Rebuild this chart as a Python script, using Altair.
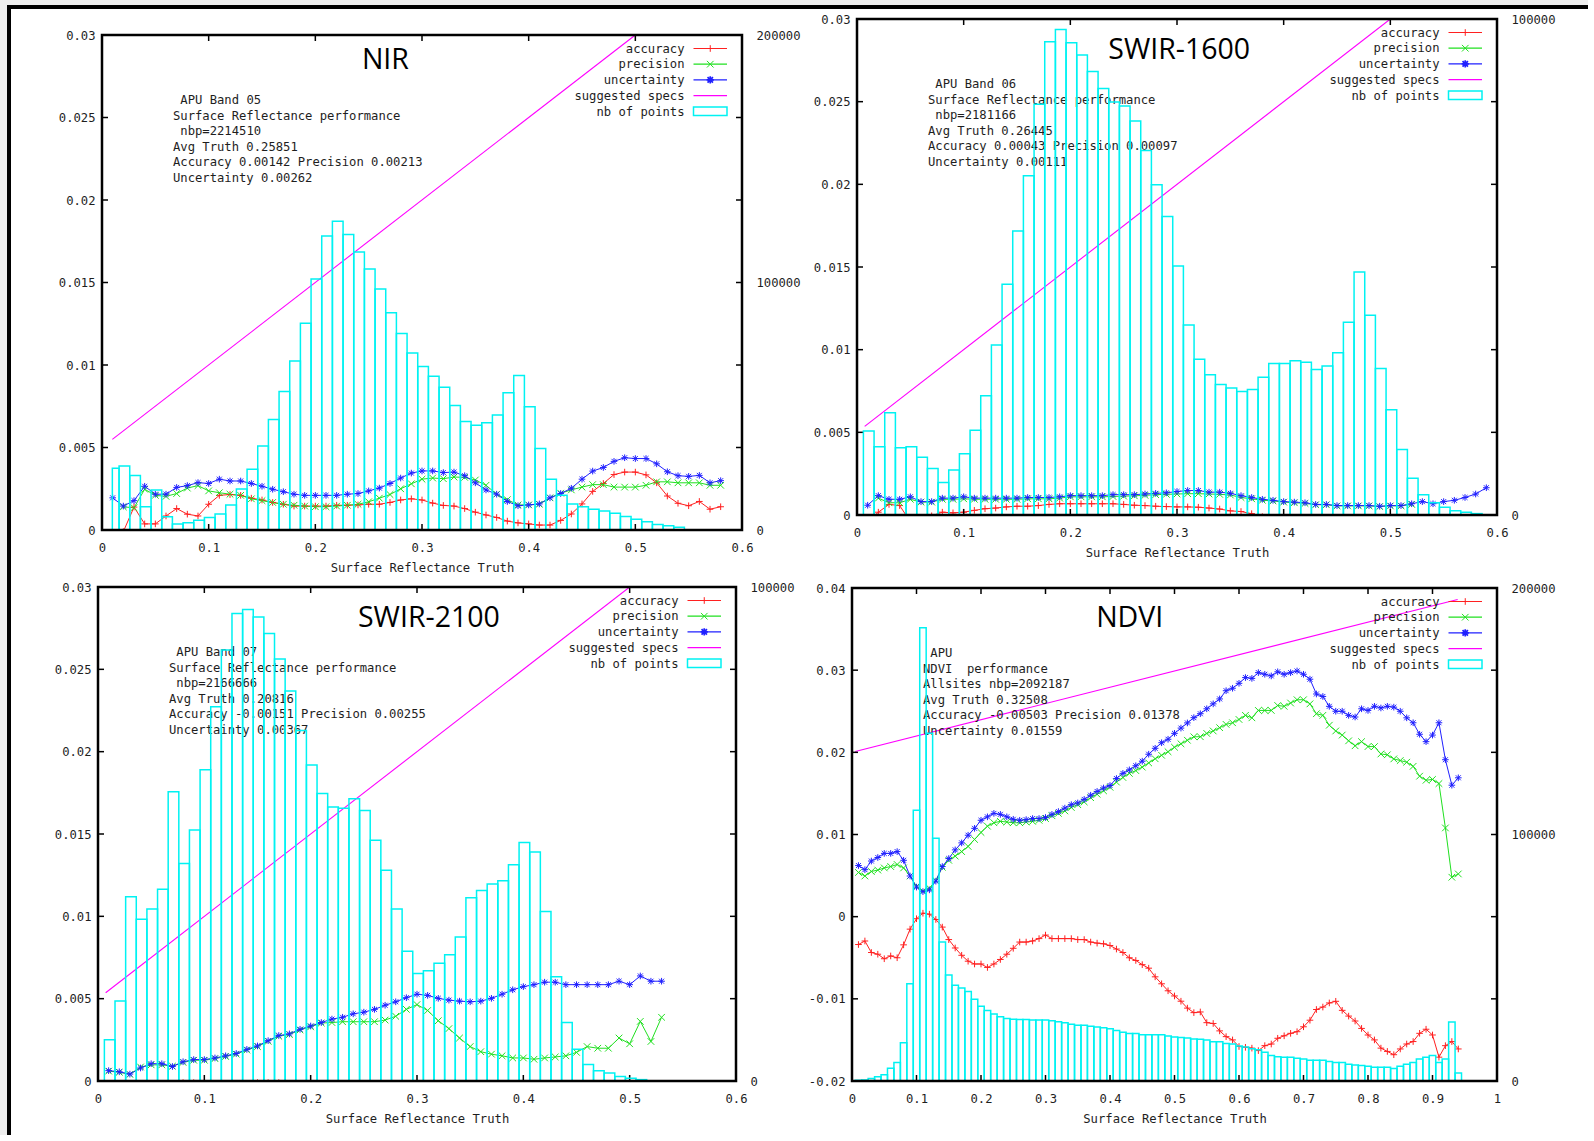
import altair as alt
import pandas as pd

# ---------------- shared labels / ticks ----------------
SERIES = ["accuracy", "precision", "uncertainty"]
LEGEND_LABELS = ["accuracy", "precision", "uncertainty", "suggested specs", "nb of points"]
X_TICKS_06 = [0, 0.1, 0.2, 0.3, 0.4, 0.5, 0.6]
X_TICKS_1 = [0, 0.1, 0.2, 0.3, 0.4, 0.5, 0.6, 0.7, 0.8, 0.9, 1]
Y_TICKS_SR = [0, 0.005, 0.01, 0.015, 0.02, 0.025, 0.03]
Y_TICKS_NDVI = [-0.02, -0.01, 0, 0.01, 0.02, 0.03, 0.04]
X_TITLE = "Surface Reflectance Truth"

# ---------------- NIR ----------------
nir_info = [" APU Band 05", "Surface Reflectance performance", " nbp=2214510",
            "Avg Truth 0.25851", "Accuracy 0.00142 Precision 0.00213", "Uncertainty 0.00262"]
nir_acc = [-0.002, -0.0001, 0.00139, 0.00037, 0.00037, 0.00085, 0.0013, 0.00096, 0.00085, 0.00156,
           0.0021, 0.00215, 0.0021, 0.00193, 0.00182, 0.00167, 0.00156, 0.00145, 0.00145, 0.00145,
           0.00145, 0.0015, 0.0015, 0.00152, 0.00156, 0.00156, 0.00167, 0.00182, 0.00189, 0.00182,
           0.00163, 0.00149, 0.00145, 0.0013, 0.00108, 0.00091, 0.00076, 0.00054, 0.00043, 0.00037,
           0.0003, 0.0003, 0.00058, 0.00097, 0.00158, 0.00234, 0.00282, 0.00336, 0.00351, 0.00351,
           0.00334, 0.00286, 0.00206, 0.00162, 0.00147, 0.00173, 0.00126, 0.00141]
nir_pre = [0.0014, 0.00135, 0.00247, 0.0021, 0.00204, 0.00221, 0.00254, 0.00269, 0.00237,
           0.00226, 0.00217, 0.0021, 0.00189, 0.00178, 0.00167, 0.00156, 0.0015, 0.00145, 0.00141,
           0.00141, 0.00145, 0.0015, 0.00156, 0.00171, 0.00193, 0.00215, 0.0025, 0.0028, 0.00308,
           0.00315, 0.00311, 0.00321, 0.00319, 0.00303, 0.00271, 0.00217, 0.00184, 0.00152, 0.00152,
           0.00156, 0.00195, 0.00223, 0.00243, 0.0026, 0.00275, 0.00275, 0.0026, 0.0026, 0.0026,
           0.00271, 0.00292, 0.00292, 0.00286, 0.00286, 0.00286, 0.00271, 0.00271]
nir_unc = [0.00195, 0.00145, 0.00178, 0.00265, 0.00217, 0.00217, 0.00258, 0.00269, 0.00287, 0.00282,
           0.00308, 0.00297, 0.00297, 0.00282, 0.00265, 0.00247, 0.00232, 0.00217, 0.0021, 0.0021,
           0.0021, 0.0021, 0.00217, 0.00221, 0.00237, 0.00254, 0.00282, 0.00315, 0.00345, 0.00358,
           0.00358, 0.00348, 0.00351, 0.00329, 0.00286, 0.00243, 0.00217, 0.00173, 0.00147, 0.00152,
           0.00158, 0.00195, 0.00221, 0.00253, 0.00308, 0.00357, 0.00379, 0.00416, 0.00438, 0.00433,
           0.00433, 0.00401, 0.00353, 0.00329, 0.00325, 0.00331, 0.00286, 0.00299]
nir_hist = [24900, 25900, 22000, 9400, 16200, 5350, 2460, 2900, 3900, 5060,
            6500, 10100, 16600, 24500, 33900, 44600, 56000, 68300, 83500, 101400,
            118800, 124700, 119400, 112300, 105500, 97400, 87800, 79400, 71500, 66100,
            62100, 57700, 50300, 43800, 42300, 43300, 46500, 55500, 62400, 49800,
            32900, 20500, 14000, 10500, 9400, 8400, 7650, 6800, 5500, 4300,
            3300, 2200, 1700, 1150]
nir_spec_x = [0.0097, 0.5]
nir_spec_y = [0.00549, 0.03]

# ---------------- SWIR-1600 ----------------
s16_info = [" APU Band 06", "Surface Reflectance performance", " nbp=2181166",
            "Avg Truth 0.26445", "Accuracy 0.00043 Precision 0.00097", "Uncertainty 0.00111"]
s16_acc = [-0.0004, 0.00017, 0.00064, 0.00057, -0.0004, -0.0004, -0.00005, 0.00017, 0.00013, 0.00017,
           0.00028, 0.00038, 0.00042, 0.00049, 0.00053, 0.00053, 0.00057, 0.00064, 0.00068, 0.00068,
           0.00068, 0.00068, 0.00068, 0.00068, 0.00064, 0.00059, 0.00057, 0.00053, 0.00051, 0.00049,
           0.00049, 0.00047, 0.00042, 0.00036, 0.00025, 0.00021, 0.00008, -0.0001, -0.0004]
s16_pre = [0.00102, 0.00074, 0.00074, 0.00095, 0.00078, 0.00078, 0.00095, 0.00095, 0.00098,
           0.00095, 0.00095, 0.00095, 0.00095, 0.00095, 0.00098, 0.00098, 0.00098, 0.00102, 0.0011,
           0.0011, 0.0011, 0.0011, 0.00112, 0.00114, 0.00116, 0.00119, 0.00123, 0.00125, 0.00127,
           0.00129, 0.00129, 0.00127, 0.00125, 0.00121, 0.00106, 0.00098, 0.00089, 0.00085, 0.00078,
           0.00074, 0.0007, 0.00062, 0.00062, 0.00055, 0.00055, 0.00055, 0.00055, 0.00051, 0.00055,
           0.00055, 0.00064]
s16_unc = [0.00059, 0.00117, 0.00095, 0.00095, 0.0011, 0.00081, 0.00081, 0.00102, 0.00102, 0.0011,
           0.00102, 0.00102, 0.00102, 0.00102, 0.00102, 0.00106, 0.00106, 0.00106, 0.0011, 0.00117,
           0.00117, 0.00117, 0.00117, 0.00123, 0.00123, 0.00123, 0.00127, 0.00131, 0.00134, 0.00142,
           0.00148, 0.00148, 0.00138, 0.00138, 0.00131, 0.00117, 0.00106, 0.00095, 0.00089, 0.00081,
           0.00078, 0.00074, 0.00064, 0.00064, 0.00057, 0.00057, 0.00057, 0.00057, 0.00053, 0.00057,
           0.00057, 0.00068, 0.00081, 0.00068, 0.00081, 0.00089, 0.00106, 0.00127, 0.00165]
s16_hist = [16960, 13780, 20640, 13570, 13780, 11660, 9400, 6570, 9050, 12370,
            17100, 24030, 34280, 46500, 57240, 68400, 82830, 95400, 97880, 95190,
            92720, 89400, 86000, 83250, 82470, 79430, 73500, 66570, 60200, 50180,
            38300, 31400, 28270, 26290, 25580, 24880, 25300, 27770, 30530, 30530,
            31100, 30810, 29330, 30040, 32720, 38870, 48980, 40280, 29540, 21200,
            13220, 7420, 4100, 2470, 1550, 850, 570, 280]
s16_spec_x = [0.0072, 0.5]
s16_spec_y = [0.00536, 0.03]

# ---------------- SWIR-2100 ----------------
s21_info = [" APU Band 07", "Surface Reflectance performance", " nbp=2166666",
            "Avg Truth 0.20816", "Accuracy -0.00151 Precision 0.00255", "Uncertainty 0.00367"]
s21_acc = [-0.0012, -0.0012, -0.0012, -0.001, -0.0008, -0.0007, -0.0005, -0.0001, -0.0001, -0.0001,
           -0.0004, -0.0006, -0.0005, -0.0003, -0.0001, -0.0001, -0.0001,
           -0.0005, -0.0008, -0.0011, -0.0013, -0.0015, -0.0016, -0.0017, -0.0018, -0.0019, -0.002,
           -0.0021, -0.0022, -0.0024, -0.0026, -0.0027, -0.0027, -0.0026, -0.0025, -0.0024, -0.0023,
           -0.0022, -0.0021, -0.002, -0.0019, -0.0018, -0.0018, -0.0017, -0.0017, -0.0016, -0.0016,
           -0.0015, -0.0015, -0.0014, -0.0014, -0.0013, -0.0013]
s21_pre = [0.0006, 0.00053, 0.0004, 0.00085, 0.00098, 0.00098, 0.0009, 0.00113, 0.00126, 0.00126,
           0.00136, 0.00149, 0.00163, 0.00188, 0.00209, 0.00241, 0.00272, 0.00282, 0.0031, 0.00329,
           0.00352, 0.00355, 0.0036, 0.0036, 0.0036, 0.0036, 0.0037, 0.00393, 0.00435, 0.00464,
           0.00428, 0.00366, 0.00318, 0.00261, 0.00209, 0.00178, 0.00163, 0.00153, 0.0014, 0.0014,
           0.00132, 0.0014, 0.00146, 0.00153, 0.00174, 0.00209, 0.00199, 0.00199, 0.00261, 0.00226,
           0.00362, 0.0024, 0.00387]
s21_unc = [0.00063, 0.00056, 0.00042, 0.00079, 0.00105, 0.00105, 0.00088, 0.00117, 0.0013, 0.0013,
           0.0014, 0.00153, 0.00167, 0.00192, 0.00213, 0.00245, 0.00276, 0.00286, 0.00314, 0.00334,
           0.00355, 0.00376, 0.00387, 0.00408, 0.00418, 0.00435, 0.0046, 0.00481, 0.00506, 0.00527,
           0.0052, 0.00502, 0.00491, 0.00485, 0.00481, 0.00485, 0.00502, 0.00527, 0.00554, 0.00573,
           0.00585, 0.006, 0.006, 0.00585, 0.00585, 0.00585, 0.00585, 0.00585, 0.00606, 0.00585,
           0.00638, 0.00606, 0.00606]
s21_hist = [8360, 16170, 37280, 32750, 34840, 38820, 58540, 44040, 50800, 63000,
            75750, 87250, 94630, 95470, 93940, 90590, 85440, 78950, 70940, 63970,
            58190, 55470, 55190, 57140, 54770, 48710, 42650, 34840, 26270, 21740,
            22300, 23830, 25580, 29130, 37070, 38540, 39860, 40560, 43760, 48290,
            46340, 34290, 21110, 11850, 6410, 3340, 2090, 1600, 900, 560, 280]
s21_spec_x = [0.0072, 0.5]
s21_spec_y = [0.00536, 0.03]

# ---------------- NDVI ----------------
ndvi_info = [" APU", "NDVI  performance", "Allsites nbp=2092187", "Avg Truth 0.32508",
             "Accuracy -0.00503 Precision 0.01378", "Uncertainty 0.01559"]
ndvi_acc = [-0.00339, -0.00296, -0.00436, -0.00457, -0.00512, -0.00478, -0.005, -0.00343, -0.00152, -0.00025,
            0.00042, 0.0003, -0.00034, -0.00127, -0.00279, -0.00381, -0.0047, -0.00542, -0.00576, -0.00576,
            -0.00618, -0.00576, -0.00521, -0.00457, -0.00385, -0.00309, -0.00309, -0.00296, -0.00267, -0.00224,
            -0.00267, -0.00267, -0.00267, -0.00267, -0.00279, -0.00279, -0.00309, -0.00322, -0.0033, -0.00351,
            -0.00394, -0.00436, -0.005, -0.00533, -0.00584, -0.00627, -0.00732, -0.00817, -0.00902, -0.00965,
            -0.01029, -0.01113, -0.01168,
            -0.0116, -0.0129, -0.013, -0.0139, -0.0146, -0.015, -0.0158, -0.0159, -0.016, -0.0163,
            -0.0157, -0.0155, -0.0148, -0.0145, -0.0142, -0.014, -0.0134, -0.0126, -0.0113, -0.011,
            -0.0105, -0.0103, -0.0114, -0.0121, -0.0127, -0.0136, -0.0144, -0.015, -0.016, -0.0164,
            -0.0168, -0.0161, -0.0155, -0.0152, -0.0142, -0.0137, -0.0144, -0.0171, -0.0157, -0.0152,
            -0.0161]
ndvi_pre = [0.00538, 0.00495, 0.0055, 0.00567, 0.00593, 0.0061, 0.00635, 0.00593, 0.00495, 0.00368,
            0.00313, 0.00347, 0.0044, 0.00601, 0.00686, 0.00737, 0.00792, 0.00855, 0.0094, 0.01025,
            0.01101, 0.01143, 0.0116, 0.01152, 0.01143, 0.01143, 0.01152, 0.0116, 0.01173, 0.01194,
            0.01228, 0.01257, 0.01287, 0.01329, 0.01363, 0.01397, 0.01448, 0.0149, 0.01532, 0.01575,
            0.01638, 0.01694, 0.01744, 0.01778, 0.0182, 0.01871, 0.01922, 0.01964, 0.02007, 0.02062,
            0.02104, 0.02147, 0.02189,
            0.0219, 0.0223, 0.0226, 0.023, 0.0234, 0.0236, 0.024, 0.0245, 0.0242, 0.0251,
            0.0251, 0.0251, 0.0257, 0.0256, 0.026, 0.0264, 0.0264, 0.0259, 0.0247, 0.0245,
            0.0233, 0.0226, 0.0221, 0.0214, 0.0208, 0.0213, 0.0207, 0.0207, 0.0198, 0.0197,
            0.0192, 0.019, 0.0188, 0.0183, 0.0171, 0.0166, 0.0167, 0.0162, 0.0108, 0.0048,
            0.0052]
ndvi_unc = [0.00622, 0.00572, 0.00677, 0.0072, 0.0077, 0.0077, 0.00792, 0.00686, 0.00495, 0.0036,
            0.00305, 0.00326, 0.00432, 0.0061, 0.00707, 0.00813, 0.00898, 0.00991, 0.01075, 0.01173,
            0.01215, 0.01257, 0.01245, 0.01215, 0.01185, 0.01173, 0.01181, 0.01194, 0.01194, 0.01207,
            0.01245, 0.01279, 0.01321, 0.01363, 0.01384, 0.01427, 0.01478, 0.01524, 0.01566, 0.01596,
            0.01681, 0.01744, 0.01787, 0.01837, 0.01892, 0.01977, 0.02049, 0.02117, 0.02159, 0.02231,
            0.02295, 0.02358, 0.02422,
            0.0247, 0.0253, 0.0259, 0.0265, 0.0275, 0.0278, 0.0284, 0.0291, 0.029, 0.0297,
            0.0295, 0.0293, 0.0298, 0.0295, 0.0297, 0.0299, 0.0295, 0.0289, 0.0271, 0.0268,
            0.0256, 0.025, 0.025, 0.0245, 0.0243, 0.0253, 0.0251, 0.0256, 0.0254, 0.0256,
            0.0255, 0.025, 0.0242, 0.0236, 0.0222, 0.0213, 0.0221, 0.0236, 0.0191, 0.016,
            0.0169]
ndvi_hist = [300, 420, 1000, 1700, 2540, 5200, 7500, 15500, 39500, 109800,
             183900, 141100, 98500, 56400, 43000, 38800, 37700, 36300, 33200, 30300,
             28600, 27200, 26100, 25400, 25100, 25000, 25000, 24700, 24700, 24700,
             24400, 24000, 23600, 23000, 22600, 22600, 22200, 21900, 21600, 21200,
             20500, 19800, 19300, 19300, 18800, 18800, 18800, 18800, 18300, 17900,
             17600, 17400, 17000, 16900, 16600, 15900, 15900, 15200, 15000, 14200,
             13800, 13100, 12700, 11700, 10300, 9800, 9600, 9600, 9200, 8900,
             8400, 8400, 8400, 7900, 7500, 7500, 6800, 6500, 6300, 6000,
             5600, 5600, 5600, 5100, 6000, 6800, 7500, 8900, 9600, 10300,
             7500, 8900, 23900, 3200]
ndvi_spec_x = [0.005, 0.939]
ndvi_spec_y = [0.0201, 0.0386]

# ---------------- style ----------------
MONO = "DejaVu Sans Mono"
SANS = "Open Sans"
FS = 12.2
CHAR_W = 7.35
INK = "#1e1e1e"
SER_COLORS = ["#ff2020", "#20e020", "#2020ff"]
SPEC_COLOR = "#ff00ff"
HIST_COLOR = "#00f2f2"
PATHS = ["M-1,0L1,0M0,-1L0,1",
         "M-1,-1L1,1M-1,1L1,-1",
         "M-1,0L1,0M0,-1L0,1M-0.75,-0.75L0.75,0.75M-0.75,0.75L0.75,-0.75"]
PT_SIZE = [44, 44, 52]
PT_SW = [1, 1, 1.7]

PANELS = [
    dict(name="NIR", W=644, H=511, frame=(4, 16, 644, 511), xdom=[0, 0.6], ydom=[0, 0.03],
         y2dom=[0, 200000], xticks=X_TICKS_06, yticks=Y_TICKS_SR, y2ticks=[0, 100000, 200000],
         tpos=(283.4, 34.3), info=nir_info, acc=(1, nir_acc), pre=(2, nir_pre), unc=(1, nir_unc),
         hist=nir_hist, hshift=0.001, hmin=0.0097, spec=(nir_spec_x, nir_spec_y), border=True),
    dict(name="SWIR-1600", W=645, H=496, frame=(5, 0, 645, 496), xdom=[0, 0.6], ydom=[0, 0.03],
         y2dom=[0, 100000], xticks=X_TICKS_06, yticks=Y_TICKS_SR, y2ticks=[0, 100000],
         tpos=(322.2, 40.3), info=s16_info, acc=(1, s16_acc), pre=(2, s16_pre), unc=(1, s16_unc),
         hist=s16_hist, hshift=0.001, hmin=0.0, spec=(s16_spec_x, s16_spec_y), border=False),
    dict(name="SWIR-2100", W=638, H=494, frame=(0, 0, 638, 494), xdom=[0, 0.6], ydom=[0, 0.03],
         y2dom=[0, 100000], xticks=X_TICKS_06, yticks=Y_TICKS_SR, y2ticks=[0, 100000],
         tpos=(330.9, 39.7), info=s21_info, acc=(1, s21_acc), pre=(1, s21_pre), unc=(1, s21_unc),
         hist=s21_hist, hshift=0.001, hmin=0.0, spec=(s21_spec_x, s21_spec_y), border=False),
    dict(name="NDVI", W=645, H=494, frame=(0, 1, 645, 494), xdom=[0, 1], ydom=[-0.02, 0.04],
         y2dom=[0, 200000], xticks=X_TICKS_1, yticks=Y_TICKS_NDVI, y2ticks=[0, 100000, 200000],
         tpos=(277.7, 38.9), info=ndvi_info, acc=(1, ndvi_acc), pre=(1, ndvi_pre), unc=(1, ndvi_unc),
         hist=ndvi_hist, hshift=0.0, hmin=0.0, spec=(ndvi_spec_x, ndvi_spec_y), border=False),
]

ONE = pd.DataFrame({"a": [0]})
LBL = "'' + datum.value"


def series_df(p):
    rows = []
    for s, key in zip(SERIES, ["acc", "pre", "unc"]):
        start, vals = p[key]
        for i, v in enumerate(vals):
            rows.append({"x": round((start + i) * 0.01, 2), "v": v, "s": s})
    return pd.DataFrame(rows)


def hist_df(p):
    rows = []
    for i, n in enumerate(p["hist"]):
        c = (i + 1) * 0.01 + p["hshift"]
        rows.append({"lo": round(max(c - 0.005, p["hmin"]), 4), "hi": round(c + 0.005, 4), "n": n, "z": 0})
    return pd.DataFrame(rows)


def rect(x0, x1, y0, y1, **kw):
    return alt.Chart(ONE).mark_rect(**kw).encode(
        x=alt.value(x0), x2=alt.value(x1), y=alt.value(y0), y2=alt.value(y1))


def build(p):
    W, H = p["W"], p["H"]
    fx0, fy0, fx1, fy1 = p["frame"]
    xs = alt.Scale(domain=p["xdom"], range=[fx0, fx1], nice=False, zero=False)
    ys = alt.Scale(domain=p["ydom"], range=[fy1, fy0], nice=False, zero=False)
    y2s = alt.Scale(domain=p["y2dom"], range=[fy1, fy0], nice=False, zero=False)

    common = dict(ticks=False, tickSize=0, domain=False, grid=False, labelFlush=False,
                  labelOverlap=False, labelFont=MONO, labelFontSize=FS, labelColor=INK)
    xaxis = alt.Axis(values=p["xticks"], labelExpr=LBL, title=X_TITLE, orient="bottom",
                     labelPadding=11.8, titlePadding=7.5, titleFont=MONO, titleFontSize=FS,
                     titleFontWeight="normal", titleColor=INK, **common)
    yaxis = alt.Axis(values=p["yticks"], labelExpr=LBL, title=None, orient="left",
                     labelPadding=7 - fx0, **common)
    y2axis = alt.Axis(values=p["y2ticks"], labelExpr=LBL, title=None, orient="right",
                      labelPadding=14 - (W - fx1), **common)

    df = series_df(p)
    xt = pd.DataFrame({"t": p["xticks"]})
    yt = pd.DataFrame({"t": p["yticks"]})

    def X(f):
        return alt.X(f, scale=xs, axis=xaxis)

    def Y(f):
        return alt.Y(f, scale=ys, axis=yaxis)

    color = alt.Color("s:N", scale=alt.Scale(domain=SERIES, range=SER_COLORS), legend=None)
    layers = []

    # data series first (defines the shared axes)
    layers.append(
        alt.Chart(df).mark_line(strokeWidth=1, clip=True).encode(
            x=X("x:Q"), y=Y("v:Q"), color=color))
    layers.append(
        alt.Chart(df).mark_point(filled=False, clip=True, opacity=1).encode(
            x=X("x:Q"), y=Y("v:Q"), color=color,
            shape=alt.Shape("s:N", scale=alt.Scale(domain=SERIES, range=PATHS), legend=None),
            size=alt.Size("s:O", scale=alt.Scale(domain=SERIES, range=PT_SIZE), legend=None),
            strokeWidth=alt.StrokeWidth("s:O", scale=alt.Scale(domain=SERIES, range=PT_SW), legend=None)))
    sx, sy = p["spec"]
    layers.append(
        alt.Chart(pd.DataFrame({"x": sx, "v": sy})).mark_line(
            color=SPEC_COLOR, strokeWidth=1.1, clip=True).encode(x=X("x:Q"), y=Y("v:Q")))

    if p["border"]:
        layers += [
            rect(-98, 1490, -19, -14, fill="#eeeeee"),
            rect(-98, -91, -19, 1116, fill="#eeeeee"),
            rect(-91, 1490, -14, -10, fill="black"),
            rect(-91, -87, -14, 1116, fill="black"),
        ]

    tk = dict(color="black", strokeWidth=1.5)
    layers += [
        alt.Chart(xt).mark_rule(**tk).encode(x=X("t:Q"), y=alt.value(fy1), y2=alt.value(fy1 - 6)),
        alt.Chart(xt).mark_rule(**tk).encode(x=X("t:Q"), y=alt.value(fy0), y2=alt.value(fy0 + 6)),
        alt.Chart(yt).mark_rule(**tk).encode(y=Y("t:Q"), x=alt.value(fx0), x2=alt.value(fx0 + 6)),
        alt.Chart(yt).mark_rule(**tk).encode(y=Y("t:Q"), x=alt.value(fx1 - 6), x2=alt.value(fx1)),
    ]

    # annotation block (one text mark per line; leading blanks become an indent)
    for i, line in enumerate(p["info"]):
        indent = len(line) - len(line.lstrip(" "))
        txt = line.strip().replace("  ", "\u00a0 ")
        layers.append(
            alt.Chart(ONE).mark_text(text=txt, align="left", baseline="top",
                                     font=MONO, fontSize=FS, color=INK).encode(
                x=alt.value(fx0 + 71 + indent * CHAR_W), y=alt.value(fy0 + 59.2 + 15.5 * i)))
    tx, ty = p["tpos"]
    layers.append(
        alt.Chart(ONE).mark_text(text=p["name"], align="center", baseline="alphabetic",
                                 font=SANS, fontSize=28.5, color="black").encode(
            x=alt.value(fx0 + tx), y=alt.value(fy0 + ty)))

    # legend
    row0, drow = 13.5, 15.7
    for i, lab in enumerate(LEGEND_LABELS):
        layers.append(
            alt.Chart(ONE).mark_text(text=lab, align="right", baseline="top",
                                     font=MONO, fontSize=FS, color=INK).encode(
                x=alt.value(fx1 - 57.5), y=alt.value(fy0 + row0 - 5.8 + drow * i)))
    lx0, lx1 = fx1 - 48.5, fx1 - 15
    for i, col in enumerate(SER_COLORS):
        yy = fy0 + row0 + drow * i
        layers.append(alt.Chart(ONE).mark_rule(color=col, strokeWidth=1.2).encode(
            x=alt.value(lx0), x2=alt.value(lx1), y=alt.value(yy)))
        layers.append(alt.Chart(ONE).mark_point(shape=PATHS[i], size=PT_SIZE[i], filled=False,
                                                strokeWidth=PT_SW[i], color=col, opacity=1).encode(
            x=alt.value((lx0 + lx1) / 2), y=alt.value(yy)))
    yy = fy0 + row0 + drow * 3
    layers.append(alt.Chart(ONE).mark_rule(color=SPEC_COLOR, strokeWidth=1.2).encode(
        x=alt.value(lx0), x2=alt.value(lx1), y=alt.value(yy)))
    yy = fy0 + row0 + drow * 4
    layers.append(rect(lx0, lx1, yy - 4.2, yy + 4.2, fillOpacity=0, stroke=HIST_COLOR, strokeWidth=1.5))

    inner = alt.layer(*layers)

    bars = alt.Chart(hist_df(p)).mark_rect(fillOpacity=0, stroke=HIST_COLOR, strokeWidth=1.5).encode(
        x=alt.X("lo:Q", scale=xs, axis=xaxis), x2="hi:Q",
        y=alt.Y("n:Q", scale=y2s, axis=y2axis), y2="z:Q")

    frame = rect(fx0, fx1, fy0, fy1, fillOpacity=0, stroke="black", strokeWidth=2.5)

    return alt.layer(inner, bars, frame).resolve_scale(y="independent").properties(width=W, height=H)


chart = alt.concat(*[build(p) for p in PANELS], columns=2, bounds="flush",
                   spacing={"row": 57, "column": 110}).properties(
    padding=0, background="white").configure_view(stroke=None)

chart.save("out.html", embed_options={"renderer": "svg", "actions": False})
